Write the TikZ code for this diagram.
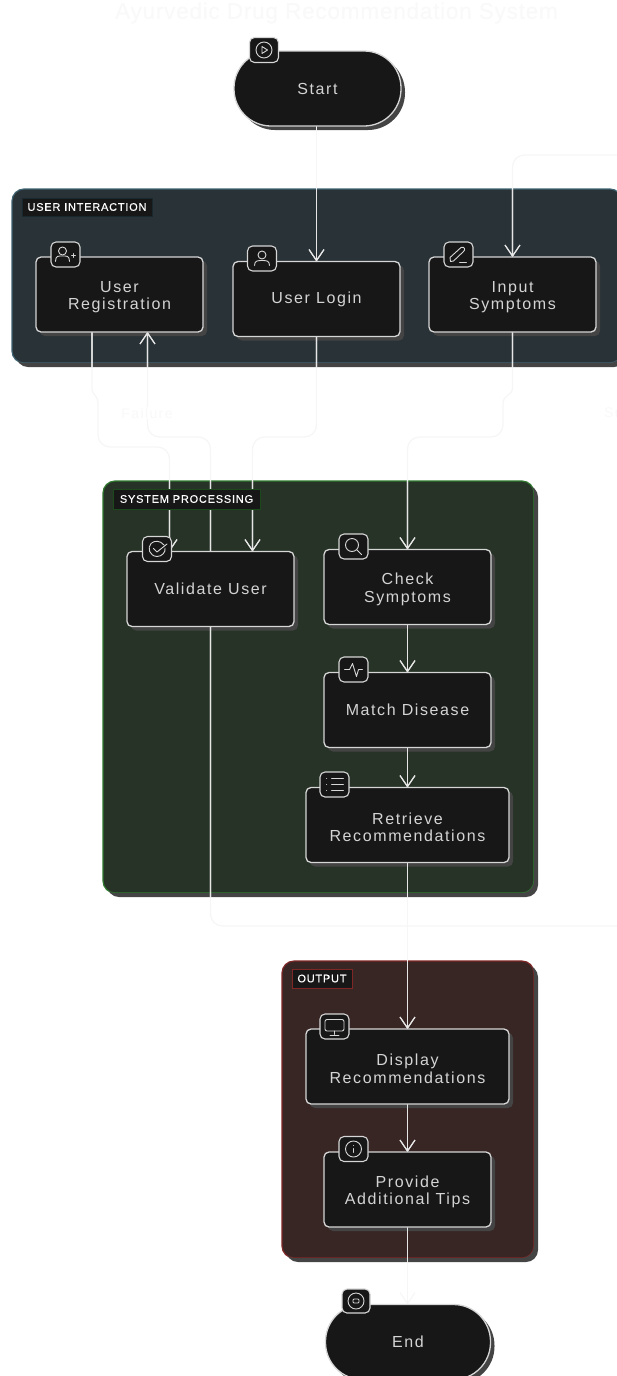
\documentclass[tikz,border=0pt]{standalone}
\usepackage{fontspec}
\setmainfont[LetterSpace=10]{Liberation Sans}
\newfontfamily\labelfont[LetterSpace=7,FakeBold=0.25]{Liberation Sans}
\newfontfamily\titlefont[LetterSpace=3,FakeBold=0.5]{Liberation Sans}
\usetikzlibrary{arrows.meta}
\pgfdeclarelayer{groups}
\pgfdeclarelayer{nodeshadows}
\pgfdeclarelayer{edges}
\pgfsetlayers{groups,nodeshadows,edges,main}
\definecolor{shadowc}{HTML}{444444}
\definecolor{boxfill}{HTML}{171717}
\definecolor{boxline}{HTML}{D6D6D6}
\definecolor{txt}{HTML}{D4D4D4}
\definecolor{bright}{HTML}{E6E6E6}
\definecolor{faint}{HTML}{F6F6F6}
\definecolor{ghost}{HTML}{F9F9F9}
\definecolor{gaFill}{HTML}{293236}
\definecolor{gaLine}{HTML}{3F6472}
\definecolor{gbFill}{HTML}{263326}
\definecolor{gbLine}{HTML}{2F7A2F}
\definecolor{gcFill}{HTML}{382625}
\definecolor{gcLine}{HTML}{7F2626}
\newcommand\topstrut{\rule{0pt}{16pt}}
\tikzset{
  flowbox/.style={draw=boxline,fill=boxfill,line width=1.3pt,rounded corners=5pt,outer sep=0pt,inner sep=0pt,
    minimum width=167pt,minimum height=75pt,align=center,text=txt,font=\fontsize{16}{17.5}\selectfont},
  widebox/.style={flowbox,minimum width=203pt},
  pill/.style={flowbox,rounded corners=37pt},
  iconbox/.style={draw=boxline,fill=boxfill,line width=1.1pt,rounded corners=5pt,minimum width=29pt,minimum height=25pt,inner sep=0pt,outer sep=0pt},
  icn/.style={draw=boxline,line width=0.9pt,line cap=round,line join=round},
  groupbox/.style={line width=1.2pt,rounded corners=12pt,inner sep=0pt,outer sep=0pt},
  tagbox/.style={line width=0.6pt,fill=boxfill,text=white,inner sep=0pt,outer sep=0pt,font=\labelfont\fontsize{11}{13}\selectfont},
  ghosttext/.style={text=ghost,font=\fontsize{14}{16}\selectfont,inner sep=1pt},
  edgeline/.style={line width=1.3pt,rounded corners=12pt},
  tip/.style={-{Straight Barb[length=11pt,width=15pt,line width=1.1pt]}},
  shadowshape/.style={fill=shadowc,rounded corners=#1}
}
\newcommand\edgeset[1]{%
  \begin{scope}[edgeline,draw=#1]
  \draw[tip] (login.north |- start.south) -- (login.north);
  \draw[tip] (login.south) -- (316.5,437) -- (252.5,437) -- (vIn);
  \draw[tip] (validate.north) -- (210.5,437) -- (147.5,437) -- (regIn);
  \draw[tip,sharp corners] (regOut) -- (92,388) .. controls (92,396) and (98,394) .. (98,404) [rounded corners=12pt] -- (98,447) -- (169.5,447) -- (vInB);
  \draw[tip,sharp corners] (input.south) -- (512.5,388) .. controls (512.5,396) and (503,394) .. (503,404) [rounded corners=12pt] -- (503,437) -- (407.5,437) -- (check.north);
  \draw[tip] (validate.south) -- (210.5,926) -- (640,926) -- (640,155) -- (512.5,155) -- (input.north);
  \draw[tip] (check.south) -- (match.north);
  \draw[tip] (match.south) -- (retrieve.north);
  \draw[tip] (retrieve.south) -- (display.north);
  \draw[tip] (display.south) -- (provide.north);
  \draw[tip] (provide.south) -- (provide.south |- end.north);
  \end{scope}}
\newcommand\castshadow[2]{\path[shadowshape=#2] ([shift={(4,4)}]#1.north west) rectangle ([shift={(4,4)}]#1.south east);}
\begin{document}
\begin{tikzpicture}[x=1pt,y=-1pt]
\useasboundingbox (0,0) rectangle (617,1376);
\node[text=ghost,font=\titlefont\fontsize{22.7}{25}\selectfont,inner sep=0pt] (title) at (336.5,13) {Ayurvedic Drug Recommendation System};

% process nodes
\node[pill] (start) at (317.5,88.5) {Start};
\node[flowbox] (reg) at (119.5,294.5) {\topstrut User\\Registration};
\node[flowbox] (login) at (316.5,299) {User Login};
\node[flowbox] (input) at (512.5,294.5) {\topstrut Input\\Symptoms};
\node[flowbox] (validate) at (210.5,589) {Validate User};
\node[flowbox] (check) at (407.5,587) {\topstrut Check\\Symptoms};
\node[flowbox] (match) at (407.5,710) {Match Disease};
\node[widebox] (retrieve) at (407.5,825) {\topstrut Retrieve\\Recommendations};
\node[widebox] (display) at (407.5,1066.5) {\topstrut Display\\Recommendations};
\node[flowbox] (provide) at (407.5,1189.5) {\topstrut Provide\\Additional Tips};
\node[pill,minimum width=165pt] (end) at (408,1342) {End};

\coordinate (regOut) at (92,332);
\coordinate (regIn) at (147.5,332);
\coordinate (vIn) at (252.5,551.5);
\coordinate (vInB) at (169.5,551.5);

% groups
\begin{pgfonlayer}{groups}
\node[groupbox,draw=gaLine,fill=gaFill,minimum width=610pt,minimum height=174pt] (g1) at (317,276) {};
\node[groupbox,draw=gbLine,fill=gbFill,minimum width=431pt,minimum height=412pt] (g2) at (318.5,687) {};
\node[groupbox,draw=gcLine,fill=gcFill,minimum width=252pt,minimum height=297pt] (g3) at (408,1109.5) {};
\end{pgfonlayer}

% shadows
\begin{pgfonlayer}{nodeshadows}
\castshadow{start}{37pt}
\castshadow{end}{37pt}
\castshadow{reg}{5pt}\castshadow{login}{5pt}\castshadow{input}{5pt}
\castshadow{validate}{5pt}\castshadow{check}{5pt}\castshadow{match}{5pt}
\castshadow{retrieve}{5pt}\castshadow{display}{5pt}\castshadow{provide}{5pt}
% the groups' own drop shadows show as a rim outside each group
\begin{scope}[even odd rule]
\foreach \g in {g1,g2,g3}{
  \begin{scope}
  \clip (0,0) rectangle (640,1400) [rounded corners=12pt] (\g.north west) rectangle (\g.south east);
  \path[shadowshape=12pt] ([shift={(4,4)}]\g.north west) rectangle ([shift={(4,4)}]\g.south east);
  \end{scope}
}
\end{scope}
\end{pgfonlayer}

% connectors: pale on the page, bright across the dark groups
\begin{pgfonlayer}{edges}
\edgeset{faint}
\begin{scope}
\clip (12,189) rectangle (617,367) (103,481) rectangle (538,897) (282,961) rectangle (538,1262);
\edgeset{bright}
\end{scope}
\end{pgfonlayer}

% group titles
\node[tagbox,draw=gaLine!40!black,minimum width=130pt,minimum height=18pt] (tagA) at (87,207) {USER INTERACTION};
\node[tagbox,draw=gbLine!60!black,minimum width=147pt,minimum height=20pt] (tagB) at (186.5,499) {SYSTEM PROCESSING};
\node[tagbox,draw=gcLine,minimum width=60pt,minimum height=19pt] (tagC) at (322,978.5) {OUTPUT};

% edge labels
\node[ghosttext,fill=white] (lf) at (147,413) {Failure};
\node[ghosttext,fill=white,anchor=west] (ls) at (603,413) {Success};

% icon tiles
\node[iconbox] (iStart) at (264,50) {};
\begin{scope}[shift={(iStart.center)},icn]
  \draw (0,0) circle[radius=8];
  \draw (-2,-3.5) -- (3.5,0) -- (-2,3.5) -- cycle;
\end{scope}
\node[iconbox] (iReg) at (65.5,254.5) {};
\begin{scope}[shift={(iReg.center)},icn]
  \draw (-3,-3.5) circle[radius=4];
  \draw (-10,7) .. controls (-10,1) and (-7,1.5) .. (-3,1.5) .. controls (1,1.5) and (4,1) .. (4,7);
  \draw (8,-1) -- (8,3) (6,1) -- (10,1);
\end{scope}
\node[iconbox] (iLogin) at (262,258.5) {};
\begin{scope}[shift={(iLogin.center)},icn]
  \draw (0,-3.5) circle[radius=4];
  \draw (-7.5,7) .. controls (-7.5,2) and (-4,2) .. (0,2) .. controls (4,2) and (7.5,2) .. (7.5,7);
\end{scope}
\node[iconbox] (iInput) at (458.5,254.5) {};
\begin{scope}[shift={(iInput.center)},icn]
  \draw (-8,7) -- (-8.5,3) -- (2.5,-7) .. controls (4,-8) and (5.5,-7) .. (6,-6) .. controls (6.5,-5) and (6,-4) .. (5,-3) -- (-5,6.5) -- cycle;
  \draw (1,7.5) -- (8,7.5);
\end{scope}
\node[iconbox] (iVal) at (157,549) {};
\begin{scope}[shift={(iVal.center)},icn]
  \draw (7,-4) .. controls (3,-9) and (-3,-8.5) .. (-6,-5.5) .. controls (-10,-1) and (-7.5,7) .. (0,7.5) .. controls (5,7.5) and (9,3) .. (8,-1);
  \draw (-3.5,-0.5) -- (0,3) -- (10,-5);
\end{scope}
\node[iconbox] (iCheck) at (353.5,546.5) {};
\begin{scope}[shift={(iCheck.center)},icn]
  \draw (-1.5,-1.5) circle[radius=6.5];
  \draw (3.5,3.5) -- (8,8);
\end{scope}
\node[iconbox] (iMatch) at (353.5,669.5) {};
\begin{scope}[shift={(iMatch.center)},icn]
  \draw (-9,0) -- (-4,0) -- (-1,-6) -- (3,7) -- (5,0) -- (9,0);
\end{scope}
\node[iconbox] (iRet) at (334.5,784.5) {};
\begin{scope}[shift={(iRet.center)},icn]
  \draw (-3,-6) -- (9,-6) (-3,0) -- (9,0) (-3,6) -- (9,6);
  \draw (-8,-6) -- (-7.8,-6) (-8,0) -- (-7.8,0) (-8,6) -- (-7.8,6);
\end{scope}
\node[iconbox] (iDisp) at (334.5,1026.5) {};
\begin{scope}[shift={(iDisp.center)},icn]
  \draw[rounded corners=2pt] (-9.5,-7) rectangle (9.5,4.5);
  \draw (0,4.5) -- (0,8) (-4.5,8.5) -- (4.5,8.5);
\end{scope}
\node[iconbox] (iTips) at (353.5,1149) {};
\begin{scope}[shift={(iTips.center)},icn]
  \draw (0,0) circle[radius=8];
  \draw (0,-0.5) -- (0,3.5);
  \draw (0,-3.5) -- (0,-3.3);
\end{scope}
\node[iconbox,minimum width=28pt,minimum height=24pt] (iEnd) at (356,1301) {};
\begin{scope}[shift={(iEnd.center)},icn]
  \draw (0,0) circle[radius=8];
  \draw[rounded corners=1pt] (-3,-2) rectangle (3,2);
\end{scope}
\end{tikzpicture}
\end{document}
